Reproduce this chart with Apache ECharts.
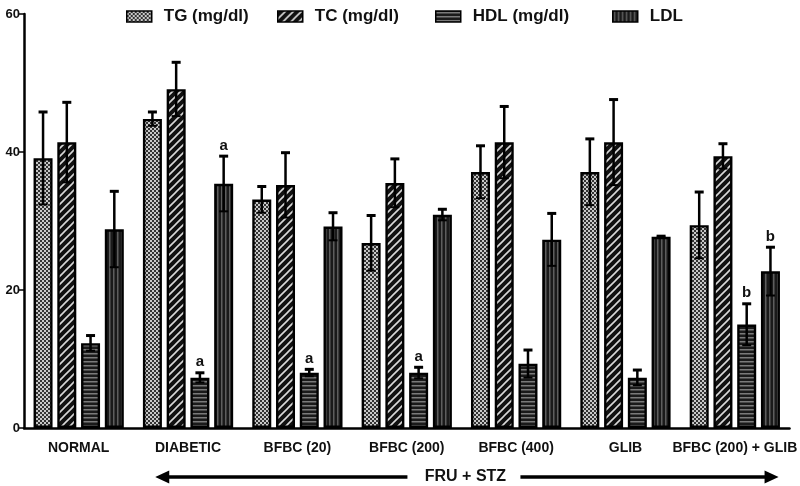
<!DOCTYPE html>
<html><head><meta charset="utf-8">
<script src="https://cdn.jsdelivr.net/npm/echarts@6/dist/echarts.min.js"></script>
<style>html,body{margin:0;padding:0;background:#fff}#c{width:800px;height:486px}</style>
</head><body><div id="c"></div>
<script>
const categories = ['NORMAL','DIABETIC','BFBC (20)','BFBC (200)','BFBC (400)','GLIB','BFBC (200) + GLIB'];
const seriesNames = ['TG (mg/dl)','TC (mg/dl)','HDL (mg/dl)','LDL'];
const tgMean = [39.1, 44.8, 33.1, 26.8, 37.1, 37.1, 29.4];
const tgErr  = [6.7, 1.0, 1.9, 4.0, 3.8, 4.8, 4.8];
const tcMean = [41.4, 49.1, 35.2, 35.5, 41.4, 41.4, 39.4];
const tcErr  = [5.8, 3.9, 4.7, 3.5, 5.2, 6.2, 1.8];
const hdlMean = [12.3, 7.3, 8.0, 8.0, 9.3, 7.3, 15.0];
const hdlErr  = [1.1, 0.7, 0.5, 0.8, 2.0, 1.1, 3.0];
const ldlMean = [28.8, 35.4, 29.2, 30.9, 27.3, 27.7, 22.7];
const ldlErr  = [5.5, 4.0, 2.0, 0.8, 3.8, 0.1, 3.5];
const hdlMarks = ['', 'a', 'a', 'a', '', '', 'b'];
const ldlMarks = ['', 'a', '', '', '', '', 'b'];
const yTicks = [0, 20, 40, 60];
const bracketText = 'FRU + STZ';

const means = [tgMean, tcMean, hdlMean, ldlMean];
const errs = [tgErr, tcErr, hdlErr, ldlErr];
const marks = [null, null, hdlMarks, ldlMarks];

function pat(w, h, draw) {
  const c = document.createElement('canvas'); c.width = w; c.height = h;
  const g = c.getContext('2d'); draw(g, w, h);
  return { image: c, repeat: 'repeat' };
}
const patterns = [
  pat(4, 4, (g) => { g.fillStyle = '#c8c8c8'; g.fillRect(0,0,4,4); g.fillStyle = '#333'; g.fillRect(0,0,2,2); g.fillRect(2,2,2,2); }),
  pat(8, 8, (g) => { g.fillStyle = '#111'; g.fillRect(0,0,8,8); g.strokeStyle = '#d8d8d8'; g.lineWidth = 1.6;
      g.beginPath(); g.moveTo(-1,9); g.lineTo(9,-1); g.moveTo(-5,5); g.lineTo(5,-5); g.moveTo(3,13); g.lineTo(13,3); g.stroke(); }),
  pat(4, 4, (g) => { g.fillStyle = '#1a1a1a'; g.fillRect(0,0,4,4); g.fillStyle = '#7a7a7a'; g.fillRect(0,1,4,1.5); }),
  pat(4, 4, (g) => { g.fillStyle = '#1a1a1a'; g.fillRect(0,0,4,4); g.fillStyle = '#5e5e5e'; g.fillRect(1,0,1.5,4); })
];

const BAR_W = 19, BAR_GAP = 0.25;
const font = 'Liberation Sans, Arial, sans-serif';

const series = [];
seriesNames.forEach((name, i) => {
  series.push({
    name, type: 'bar', data: means[i], barWidth: BAR_W, barGap: (BAR_GAP * 100) + '%',
    itemStyle: { color: patterns[i], borderColor: '#000', borderWidth: 2.4 },
    z: 2
  });
});
seriesNames.forEach((name, i) => {
  series.push({
    type: 'custom', name: name + ' err', silent: true, z: 5,
    data: means[i].map((m, k) => [k, m, errs[i][k]]),
    renderItem: function (params, api) {
      const k = api.value(0), m = api.value(1), e = api.value(2);
      const lbl = marks[i] ? marks[i][k] : '';
      const off = (i - 1.5) * BAR_W * (1 + BAR_GAP);
      const top = api.coord([k, m + e]);
      const bot = api.coord([k, m - e]);
      const x = top[0] + off;
      const cap = 4.5;
      const children = [
        { type: 'line', shape: { x1: x, y1: top[1], x2: x, y2: bot[1] }, style: { stroke: '#000', lineWidth: 2.5 } },
        { type: 'line', shape: { x1: x - cap, y1: top[1], x2: x + cap, y2: top[1] }, style: { stroke: '#000', lineWidth: 3 } },
        { type: 'line', shape: { x1: x - cap, y1: bot[1], x2: x + cap, y2: bot[1] }, style: { stroke: '#000', lineWidth: 2 } }
      ];
      if (lbl) {
        children.push({ type: 'text', style: { text: lbl, x: x, y: top[1] - 3, textAlign: 'center', textVerticalAlign: 'bottom',
          font: 'bold 15px ' + font, fill: '#111' } });
      }
      return { type: 'group', children };
    }
  });
});

const legendLeft = [121, 272, 430, 607];
const legends = seriesNames.map((n, i) => ({
  data: [n], top: 3, left: legendLeft[i], itemWidth: 25, itemHeight: 11, icon: 'rect',
  textStyle: { fontFamily: font, fontSize: 17, fontWeight: 'bold', color: '#111', padding: [0, 0, 0, 7] },
  itemStyle: { borderColor: '#000', borderWidth: 1.5 }
}));

const chart = echarts.init(document.getElementById('c'), null, { renderer: 'canvas' });
chart.setOption({
  animation: false,
  backgroundColor: '#fff',
  legend: legends,
  grid: { left: 24, right: 7, top: 14, bottom: 58, containLabel: false },
  xAxis: {
    type: 'category', data: categories,
    axisLine: { lineStyle: { color: '#000', width: 2.5 } },
    axisTick: { alignWithLabel: true, length: 7, lineStyle: { color: '#000', width: 1.5 } },
    axisLabel: { margin: 13, fontFamily: font, fontSize: 14, fontWeight: 'bold', color: '#111', interval: 0 }
  },
  yAxis: {
    type: 'value', min: yTicks[0], max: yTicks[yTicks.length - 1], interval: 20,
    splitLine: { show: false },
    axisLine: { show: true, lineStyle: { color: '#000', width: 2.5 } },
    axisTick: { show: true, length: 5, lineStyle: { color: '#000', width: 1.5 } },
    axisLabel: { margin: 4, fontFamily: font, fontSize: 13, fontWeight: 'bold', color: '#111' }
  },
  series
});

// Bracket arrow spanning the treated groups
const cDia = chart.convertToPixel({ xAxisIndex: 0 }, categories[1]);
const cLast = chart.convertToPixel({ xAxisIndex: 0 }, categories[categories.length - 1]);
const band = chart.convertToPixel({ xAxisIndex: 0 }, categories[2]) - cDia;
const yArr = 477;
const xL = cDia - band * 0.30, xR = cLast + band * 0.40;
const mid = (cDia + cLast) / 2 + 4;
chart.setOption({
  graphic: [
    { type: 'line', shape: { x1: xL + 10, y1: yArr, x2: mid - 58, y2: yArr }, style: { stroke: '#000', lineWidth: 3.5 } },
    { type: 'polygon', shape: { points: [[xL, yArr], [xL + 14, yArr - 6.5], [xL + 14, yArr + 6.5]] }, style: { fill: '#000' } },
    { type: 'text', style: { text: bracketText, x: mid, y: yArr, textAlign: 'center', textVerticalAlign: 'middle', font: 'bold 16px ' + font, fill: '#111' } },
    { type: 'line', shape: { x1: mid + 55, y1: yArr, x2: xR - 10, y2: yArr }, style: { stroke: '#000', lineWidth: 3.5 } },
    { type: 'polygon', shape: { points: [[xR, yArr], [xR - 14, yArr - 6.5], [xR - 14, yArr + 6.5]] }, style: { fill: '#000' } }
  ]
});
</script></body></html>
